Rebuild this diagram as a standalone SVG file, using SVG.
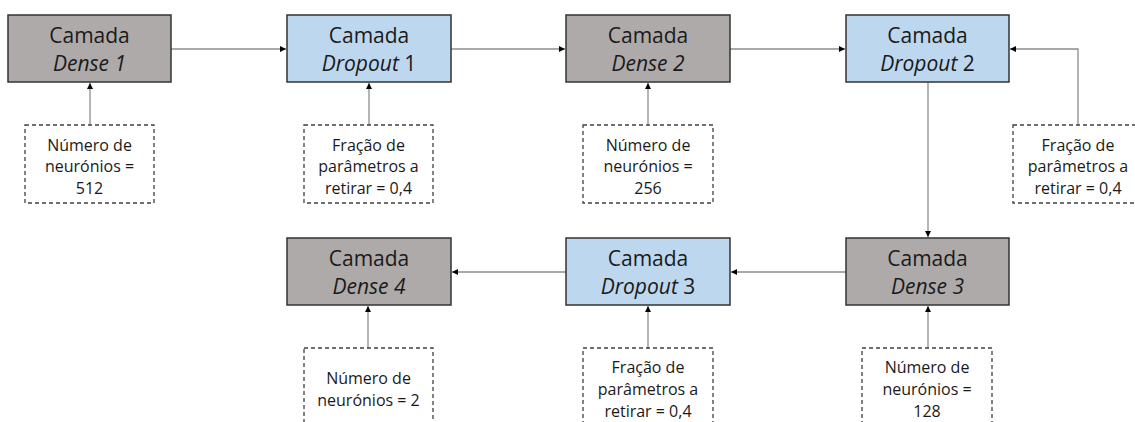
<svg xmlns="http://www.w3.org/2000/svg" width="1135" height="422" viewBox="0 0 1135 422">
<defs>
<style>
.dense{fill:#AEAAAA;stroke:#333333;stroke-width:1.5}
.drop{fill:#BDD7EE;stroke:#333333;stroke-width:1.5}
.param{fill:#FFFFFF;stroke:#404040;stroke-width:1.3;stroke-dasharray:4 3}
.t{font-family:"Open Sans","Noto Sans",sans-serif;font-size:21px;fill:#1a1a1a;text-anchor:middle}
.p{font-family:"Open Sans","Noto Sans",sans-serif;font-size:16px;fill:#1a1a1a;text-anchor:middle}
.i{font-style:italic}
.c{fill:none;stroke:#8c8c8c;stroke-width:1.3}
</style>
<marker id="ah" viewBox="0 0 10 10" refX="10" refY="5" markerWidth="6" markerHeight="6" orient="auto" markerUnits="userSpaceOnUse">
<path d="M0,0 L10,5 L0,10 z" fill="#000"/>
</marker>
</defs>
<rect width="1135" height="422" fill="#FFFFFF"/>

<g id="connectors">
<path class="c" d="M171,49 H286" marker-end="url(#ah)"/>
<path class="c" d="M451,49 H565" marker-end="url(#ah)"/>
<path class="c" d="M730,49 H845" marker-end="url(#ah)"/>
<path class="c" d="M1078,125 V49 H1010" marker-end="url(#ah)"/>
<path class="c" d="M928,82 V237" marker-end="url(#ah)"/>
<path class="c" d="M846,272 H731" marker-end="url(#ah)"/>
<path class="c" d="M566,272 H452" marker-end="url(#ah)"/>
<path class="c" d="M90,125 V83" marker-end="url(#ah)"/>
<path class="c" d="M369,125 V83" marker-end="url(#ah)"/>
<path class="c" d="M648,125 V83" marker-end="url(#ah)"/>
<path class="c" d="M928,348 V306" marker-end="url(#ah)"/>
<path class="c" d="M648,348 V306" marker-end="url(#ah)"/>
<path class="c" d="M368,348 V306" marker-end="url(#ah)"/>
</g>

<g id="dense1">
<rect class="dense" x="8" y="15" width="163" height="67"/>
<text class="t" x="89.5" y="43">Camada</text>
<text class="t i" x="89.5" y="71">Dense 1</text>
</g>
<g id="dropout1">
<rect class="drop" x="287" y="15" width="164" height="67"/>
<text class="t" x="369" y="43">Camada</text>
<text class="t" x="369" y="71"><tspan class="i">Dropout</tspan> 1</text>
</g>
<g id="dense2">
<rect class="dense" x="566" y="15" width="164" height="67"/>
<text class="t" x="648" y="43">Camada</text>
<text class="t i" x="648" y="71">Dense 2</text>
</g>
<g id="dropout2">
<rect class="drop" x="846" y="15" width="163" height="67"/>
<text class="t" x="927.5" y="43">Camada</text>
<text class="t" x="927.5" y="71"><tspan class="i">Dropout</tspan> 2</text>
</g>
<g id="dense3">
<rect class="dense" x="846" y="238" width="163" height="67"/>
<text class="t" x="927.5" y="266">Camada</text>
<text class="t i" x="927.5" y="294">Dense 3</text>
</g>
<g id="dropout3">
<rect class="drop" x="566" y="238" width="164" height="67"/>
<text class="t" x="648" y="266">Camada</text>
<text class="t" x="648" y="294"><tspan class="i">Dropout</tspan> 3</text>
</g>
<g id="dense4">
<rect class="dense" x="287" y="238" width="164" height="67"/>
<text class="t" x="369" y="266">Camada</text>
<text class="t i" x="369" y="294">Dense 4</text>
</g>

<g id="param-dense1">
<rect class="param" x="25" y="125" width="129" height="78"/>
<text class="p" x="89.5" y="151">Número de</text>
<text class="p" x="89.5" y="172">neurónios =</text>
<text class="p" x="89.5" y="194">512</text>
</g>
<g id="param-dropout1">
<rect class="param" x="304" y="125" width="129" height="78"/>
<text class="p" x="368.5" y="151">Fração de</text>
<text class="p" x="368.5" y="172">parâmetros a</text>
<text class="p" x="368.5" y="194">retirar = 0,4</text>
</g>
<g id="param-dense2">
<rect class="param" x="583" y="125" width="130" height="78"/>
<text class="p" x="648" y="151">Número de</text>
<text class="p" x="648" y="172">neurónios =</text>
<text class="p" x="648" y="194">256</text>
</g>
<g id="param-dropout2">
<rect class="param" x="1013" y="125" width="130" height="78"/>
<text class="p" x="1078" y="151">Fração de</text>
<text class="p" x="1078" y="172">parâmetros a</text>
<text class="p" x="1078" y="194">retirar = 0,4</text>
</g>
<g id="param-dense3">
<rect class="param" x="862" y="348" width="130" height="80"/>
<text class="p" x="927" y="373">Número de</text>
<text class="p" x="927" y="395">neurónios =</text>
<text class="p" x="927" y="417">128</text>
</g>
<g id="param-dropout3">
<rect class="param" x="583" y="348" width="130" height="80"/>
<text class="p" x="648" y="373">Fração de</text>
<text class="p" x="648" y="395">parâmetros a</text>
<text class="p" x="648" y="417">retirar = 0,4</text>
</g>
<g id="param-dense4">
<rect class="param" x="304" y="348" width="129" height="80"/>
<text class="p" x="368.5" y="384">Número de</text>
<text class="p" x="368.5" y="406">neurónios = 2</text>
</g>
</svg>
